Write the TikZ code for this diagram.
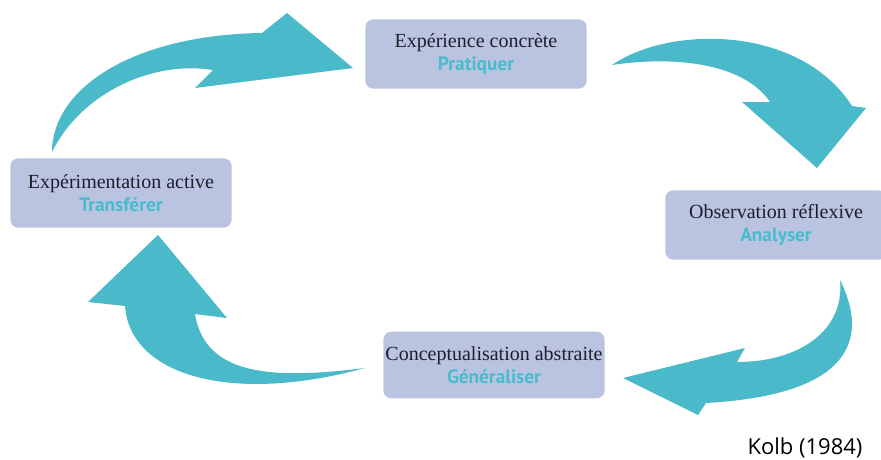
\documentclass[tikz,border=0pt]{standalone}
\usepackage{fontspec}
\setmainfont{Liberation Serif}
\newfontfamily\labfont{PT Sans}
\newfontfamily\srcfont{Open Sans}

\definecolor{boxcol}{RGB}{186,196,225}
\definecolor{arrcol}{RGB}{74,186,202}
\definecolor{labcol}{RGB}{72,188,204}
\definecolor{txtcol}{RGB}{30,30,45}

\tikzset{
  box/.style={fill=boxcol, rounded corners=6pt, minimum width=166pt, minimum height=52pt,
    align=center, text=txtcol, font=\fontsize{15}{17}\selectfont, inner sep=0pt},
  bigarrow/.style={fill=arrcol, draw=none}
}
\newcommand{\lab}[1]{{\labfont\bfseries\fontsize{14.5}{17}\selectfont\color{labcol}#1}}

\begin{document}
\begin{tikzpicture}[x=0.75pt,y=0.75pt,yscale=-1,xscale=1]
\useasboundingbox (0,0) rectangle (881,460);

%Shape: Arrow [left to top]
\path[bigarrow] (52,152) .. controls (52,90) and (130,35) .. (262,33) -- (287,13) -- (353,68) -- (195,88) -- (213,70) .. controls (150,60) and (80,95) .. (52,152) -- cycle ;
%Shape: Arrow [top to right]
\path[bigarrow] (612,65) .. controls (670,25) and (800,25) .. (852,106) -- (866,108) -- (817,168) -- (742,102) -- (770,102) .. controls (745,65) and (680,55) .. (612,65) -- cycle ;
%Shape: Arrow [right to bottom]
\path[bigarrow] (840,280) .. controls (870,340) and (850,395) .. (706,403) -- (698,415) -- (623,378) -- (745,348) -- (737,362) .. controls (800,362) and (845,330) .. (840,280) -- cycle ;
%Shape: Arrow [bottom to left]
\path[bigarrow] (365,368) .. controls (270,380) and (205,375) .. (195,314) -- (227,318) -- (158,235) -- (88,302) -- (125,306) .. controls (130,375) and (230,405) .. (365,368) -- cycle ;

% Text Node
\node[box] (expc) at (476,54) {Expérience concrète\\\lab{Pratiquer}};
% Text Node
\node[box] (expa) at (121,193) {Expérimentation active\\\lab{Transférer}};
% Text Node
\node[box] (obsr) at (776,225) {Observation réflexive\\\lab{Analyser}};
% Text Node
\node[box, minimum height=50pt] (conc) at (494,365) {Conceptualisation abstraite\\\lab{Généraliser}};
% Text Node
\node[font=\srcfont\fontsize{16.5}{20}\selectfont, text=black] (kolb) at (805,448) {Kolb (1984)};

\end{tikzpicture}
\end{document}
